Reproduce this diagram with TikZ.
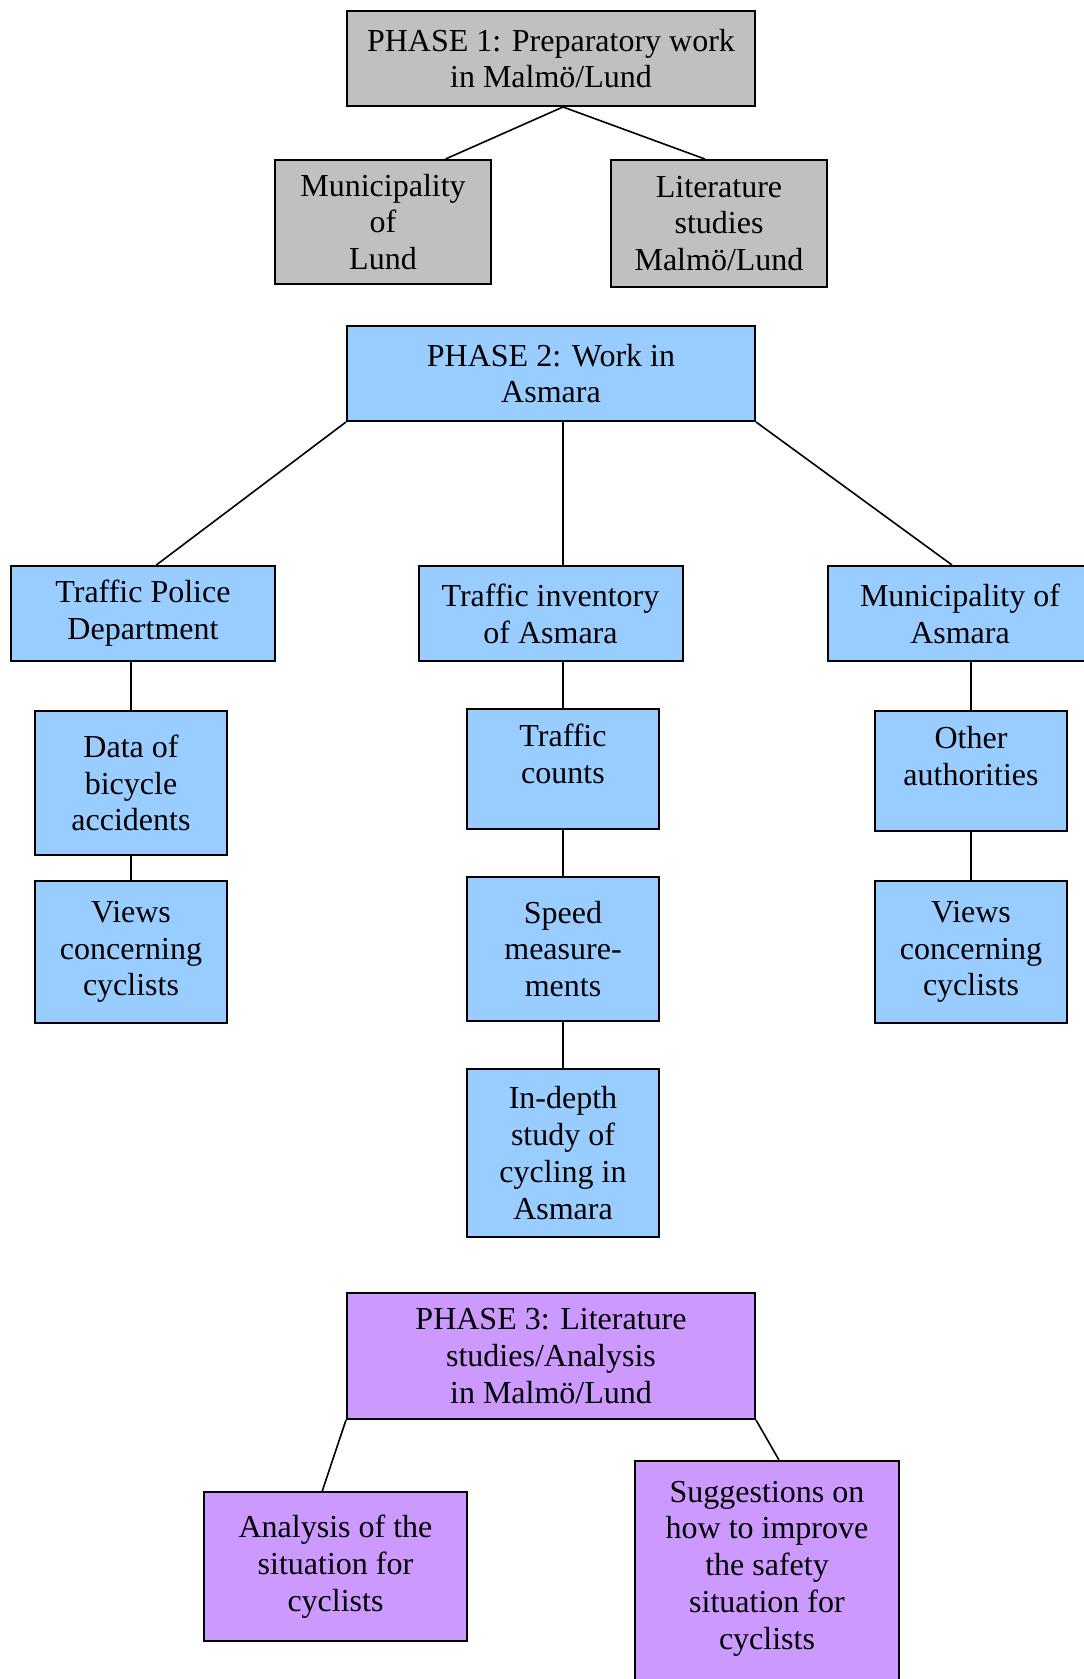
\documentclass[tikz,border=0pt]{standalone}
\usepackage{fontspec}
\setmainfont{Liberation Serif}
\usetikzlibrary{calc}
\definecolor{phaseone}{HTML}{C0C0C0}
\definecolor{phasetwo}{HTML}{99CCFF}
\definecolor{phasethree}{HTML}{CC99FF}
\tikzset{
  box/.style={draw=black, line width=1pt, align=center, inner sep=2pt,
    font=\fontsize{16}{18.4}\selectfont},
  wide/.style={box, minimum width=204pt},
  mid/.style={box, minimum width=132pt},
  narrow/.style={box, minimum width=96pt},
  link/.style={draw=black, line width=0.8pt}
}
\begin{document}
\begin{tikzpicture}[x=0.5pt, y=-0.5pt]
      \useasboundingbox (0,0) rectangle (1083,1679);

      % Phase 1
      \node[wide, fill=phaseone, minimum height=47.5pt] (p1) at (551,58.5) {PHASE 1: Preparatory work\\in Malmö/Lund};
      \node[box, fill=phaseone, minimum width=108pt, minimum height=62pt] (lund) at (383,222) {Municipality\\of\\Lund};
      \node[box, fill=phaseone, minimum width=108pt, minimum height=63.5pt] (lit) at (719,223.5) {Literature\\studies\\Malmö/Lund};

      % Phase 2
      \node[wide, fill=phasetwo, minimum height=47.5pt] (p2) at (551,373.5) {PHASE 2: Work in\\Asmara};
      \node[mid, fill=phasetwo, minimum height=47.5pt] (police) at (143,613.5) {Traffic Police\\Department};
      \node[mid, fill=phasetwo, minimum height=47.5pt] (inv) at (550.5,613.5) {Traffic inventory\\of Asmara};
      \node[mid, fill=phasetwo, minimum height=47.5pt] (muni) at (960,613.5) {Municipality of\\Asmara};
      \node[narrow, fill=phasetwo, minimum height=72pt] (acc) at (131,783) {Data of\\bicycle\\accidents};
      \node[narrow, fill=phasetwo, minimum height=71pt] (viewl) at (131,952) {Views\\concerning\\cyclists};
      \node[narrow, fill=phasetwo, minimum height=60pt, text depth=15pt] (counts) at (563,769) {Traffic\\counts};
      \node[narrow, fill=phasetwo, minimum height=72pt] (speed) at (563,949) {Speed\\measure-\\ments};
      \node[narrow, fill=phasetwo, minimum height=84pt] (depth) at (563,1153) {In-depth\\study of\\cycling in\\Asmara};
      \node[narrow, fill=phasetwo, minimum height=60pt, text depth=15pt] (other) at (971,771) {Other\\authorities};
      \node[narrow, fill=phasetwo, minimum height=71pt] (viewr) at (971,952) {Views\\concerning\\cyclists};

      % Phase 3
      \node[wide, fill=phasethree, minimum height=63pt] (p3) at (551,1356) {PHASE 3: Literature\\studies/Analysis\\in Malmö/Lund};
      \node[box, fill=phasethree, minimum width=131.5pt, minimum height=74.5pt] (ana) at (335.5,1566.5) {Analysis of the\\situation for\\cyclists};
      \node[mid, fill=phasethree, minimum height=112pt, text depth=8pt] (sugg) at (767,1573) {Suggestions on\\how to improve\\the safety\\situation for\\cyclists};

      % Links phase 1
      \draw[link] ($(p1.south)+(12,0)$) -- ($(lund.north west)!0.787!(lund.north east)$);
      \draw[link] ($(p1.south)+(12,0)$) -- ($(lit.north west)!0.435!(lit.north east)$);

      % Links phase 2
      \draw[link] (p2.south -| counts.north) -- (inv.north -| counts.north);
      \draw[link] (p2.south west) -- ($(police.north west)!0.55!(police.north east)$);
      \draw[link] (p2.south east) -- ($(muni.north west)!0.47!(muni.north east)$);
      \draw[link] (police.south -| acc.north) -- (acc.north);
      \draw[link] (acc.south) -- (viewl.north);
      \draw[link] (inv.south -| counts.north) -- (counts.north);
      \draw[link] (counts.south) -- (speed.north);
      \draw[link] (speed.south) -- (depth.north);
      \draw[link] (muni.south -| other.north) -- (other.north);
      \draw[link] (other.south) -- (viewr.north);

      % Links phase 3
      \draw[link] (p3.south west) -- ($(ana.north west)!0.45!(ana.north east)$);
      \draw[link] (p3.south east) -- ($(sugg.north west)!0.545!(sugg.north east)$);
    \end{tikzpicture}
\end{document}
